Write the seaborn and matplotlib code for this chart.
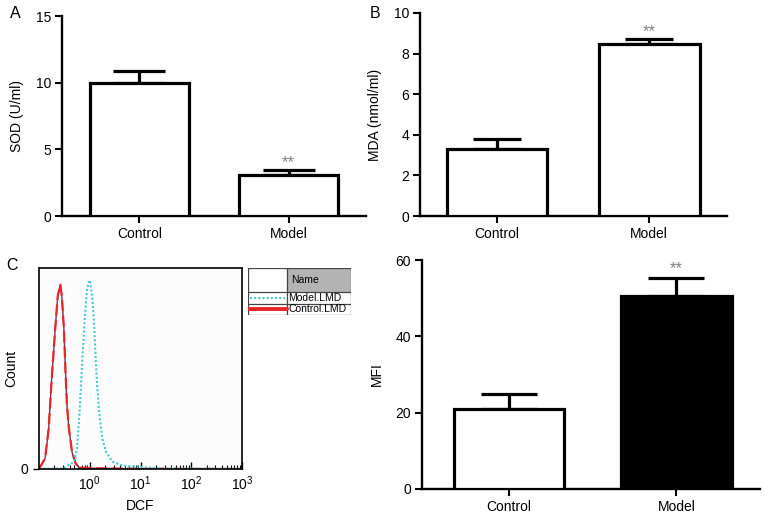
import numpy as np
import pandas as pd
import matplotlib
matplotlib.use("Agg")
import matplotlib.pyplot as plt
from matplotlib.patches import Rectangle
from matplotlib.lines import Line2D
import seaborn as sns

# ---------------- data ----------------
categories = ["Control", "Model"]
sod_mean = [10.0, 3.1]
sod_err = [0.9, 0.35]
mda_mean = [3.3, 8.45]
mda_err = [0.5, 0.25]
mfi_mean = [21.0, 50.6]
mfi_err = [4.0, 4.7]

# flow-cytometry histogram (DCF fluorescence vs count)
ctrl_dcf = [0.1, 0.132, 0.155, 0.178, 0.209, 0.234, 0.263, 0.282, 0.309, 0.331,
            0.355, 0.389, 0.447, 0.525, 0.617, 1.0, 3.0, 10.0, 1000.0]
ctrl_count = [0.0, 5.3, 20.0, 45.0, 70.0, 86.0, 91.7, 86.0, 70.0, 50.0,
              32.0, 20.0, 8.6, 2.8, 0.7, 0.4, 0.2, 0.1, 0.0]
model_dcf = [0.1, 0.3, 0.49, 0.56, 0.63, 0.71, 0.81, 0.89, 1.0, 1.12, 1.23,
             1.32, 1.41, 1.58, 1.78, 2.09, 2.82, 4.47, 8.3, 10.5, 20.0, 100.0, 1000.0]
model_count = [0.0, 0.3, 3.6, 10.0, 28.0, 53.0, 78.0, 90.0, 94.0, 86.0, 70.0,
               53.0, 40.0, 25.0, 15.0, 8.6, 3.6, 1.7, 1.2, 1.0, 0.4, 0.2, 0.0]
legend_names = ["Model.LMD", "Control.LMD"]

# ---------------- style ----------------
sns.set_style("ticks")
plt.rcParams['font.family'] = ['Liberation Sans', 'DejaVu Sans']
plt.rcParams['mathtext.fontset'] = 'custom'
plt.rcParams['mathtext.rm'] = 'Liberation Sans'
plt.rcParams['mathtext.it'] = 'Liberation Sans'
for k in ['text.color', 'axes.labelcolor', 'xtick.color', 'ytick.color',
          'axes.edgecolor']:
    plt.rcParams[k] = 'black'

fig = plt.figure(figsize=(7.65, 5.16), dpi=100)
W, H = 765.0, 516.0


def px_axes(l, t, r, b):
    return fig.add_axes([l / W, 1 - b / H, (r - l) / W, (b - t) / H])


def bar_panel(ax, means, errs, ylim, yticks, ylabel, fills, star_y, capsize, xlim):
    df = pd.DataFrame({"group": categories, "value": means})
    sns.barplot(data=df, x="group", y="value", hue="group", palette=fills,
                legend=False, errorbar=None, width=0.66, edgecolor="black",
                linewidth=2.3, ax=ax, zorder=3)
    ax.errorbar(x=[0, 1], y=means, yerr=[[0, 0], errs], fmt="none", ecolor="black",
                elinewidth=2.3, capsize=capsize, capthick=2.3, zorder=2)
    ax.set_ylim(*ylim)
    ax.set_yticks(yticks)
    ax.set_xlim(*xlim)
    ax.set_xlabel("")
    ax.set_ylabel(ylabel, fontsize=10, labelpad=8)
    for s in ["top", "right"]:
        ax.spines[s].set_visible(False)
    for s in ["left", "bottom"]:
        ax.spines[s].set_linewidth(1.7)
    ax.tick_params(axis="both", direction="out", length=5, width=1.5,
                   labelsize=10, pad=3)
    ax.text(1, star_y, "**", ha="center", va="top", fontsize=12, color="#808080")


# Panel A
axA = px_axes(62, 16, 366, 216)
bar_panel(axA, sod_mean, sod_err, (0, 15), [0, 5, 10, 15], "SOD (U/ml)",
          ["white", "white"], 4.55, 18.5, (-0.52, 1.52))

# Panel B
axB = px_axes(420, 13, 727, 216)
bar_panel(axB, mda_mean, mda_err, (0, 10), [0, 2, 4, 6, 8, 10], "MDA (nmol/ml)",
          ["white", "white"], 9.47, 17, (-0.505, 1.51))

# Panel D (MFI)
axD = px_axes(422, 260, 760, 489)
bar_panel(axD, mfi_mean, mfi_err, (0, 60), [0, 20, 40, 60], "MFI",
          ["white", "black"], 59.7, 20, (-0.52, 1.50))

# Panel C histogram
axC = px_axes(39, 268, 242, 469)
axC.set_facecolor("#fcfcfc")
sns.lineplot(x=ctrl_dcf, y=ctrl_count, ax=axC, color="#7a3050", lw=1.0)
sns.lineplot(x=ctrl_dcf, y=ctrl_count, ax=axC, color="#e8262a", lw=1.6,
             linestyle=(0, (5, 2)))
sns.lineplot(x=model_dcf, y=model_count, ax=axC, color="#45c9d0", lw=1.5,
             linestyle=(0, (1, 1)))
axC.set_xscale("log")
axC.set_xlim(0.1, 1000)
axC.set_ylim(0, 100)
axC.set_xticks([1, 10, 100, 1000])
axC.set_yticks([0])
axC.tick_params(axis="x", which="major", direction="in", length=5, width=1,
                labelsize=10, pad=4)
axC.tick_params(axis="x", which="minor", direction="in", length=3, width=0.8)
axC.tick_params(axis="y", direction="out", length=4, width=1, labelsize=10)
for s in axC.spines.values():
    s.set_linewidth(1.2)
axC.set_xlabel("DCF", fontsize=10, labelpad=4)
axC.set_ylabel("Count", fontsize=10, labelpad=2)

# legend table for histogram
axL = px_axes(248, 268, 351, 315)
axL.set_xlim(0, 1)
axL.set_ylim(0, 1)
axL.axis("off")
split = 0.376
hdr = 0.489
mid = 0.24
axL.add_patch(Rectangle((split, hdr), 1 - split, 1 - hdr, facecolor="#b3b3b3",
                        edgecolor="none"))
for yy in [0, mid, hdr, 1]:
    axL.add_line(Line2D([0, 1], [yy, yy], color="#444444", lw=0.9))
for xx in [0, split, 1]:
    axL.add_line(Line2D([xx, xx], [0, 1], color="#444444", lw=0.9))
axL.text(split + 0.04, 0.745, "Name", fontsize=7.5, va="center", ha="left")
axL.text(split + 0.015, (mid + hdr) / 2, legend_names[0], fontsize=7.5,
         va="center", ha="left")
axL.text(split + 0.015, mid / 2, legend_names[1], fontsize=7.5,
         va="center", ha="left")
axL.add_line(Line2D([0.02, split - 0.02], [(mid + hdr) / 2] * 2, color="#45c9d0",
                    lw=1.5, linestyle=(0, (1, 1))))
axL.add_line(Line2D([0.0, split], [mid / 2] * 2, color="#e8262a", lw=2.8))

# panel letters
fig.text(10 / W, 1 - 14 / H, "A", fontsize=11.5, va="center", ha="left")
fig.text(370 / W, 1 - 13 / H, "B", fontsize=11.5, va="center", ha="left")
fig.text(6 / W, 1 - 266 / H, "C", fontsize=11.5, va="center", ha="left")

fig.savefig("out.png", dpi=100, facecolor="white")
